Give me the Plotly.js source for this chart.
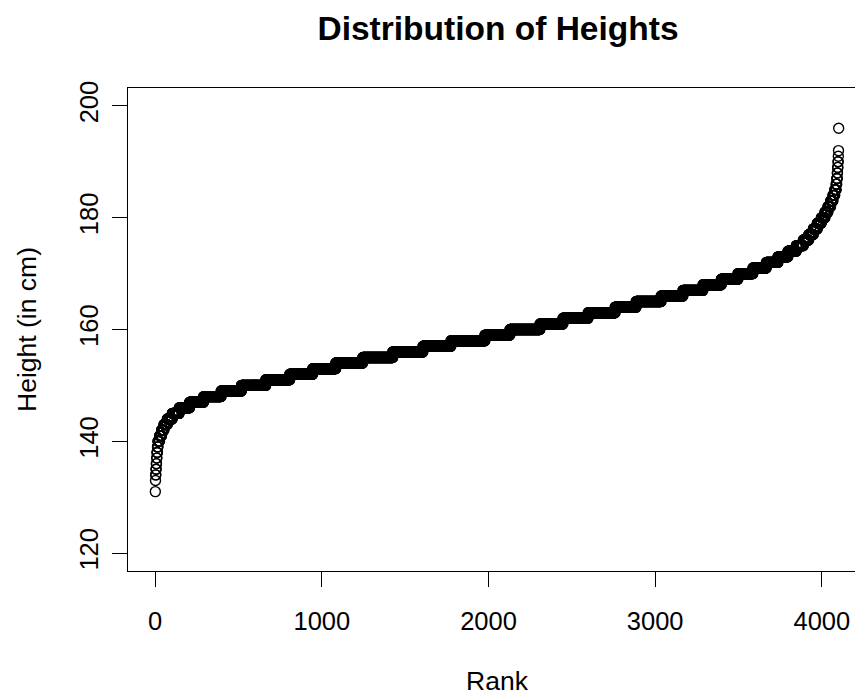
<!DOCTYPE html>
<html>
<head>
<meta charset="utf-8">
<script src="https://cdn.plot.ly/plotly-3.0.1.min.js"></script>
<style>
  html, body { margin: 0; padding: 0; background: #ffffff; overflow: hidden; }
  #frame { width: 855px; height: 696px; overflow: hidden; position: relative; }
  #chart { width: 866px; height: 696px; }
</style>
</head>
<body>
<div id="frame"><div id="chart"></div></div>
<script>
// Observed heights (cm) and how many people had each height
const heightCm = [131, 133, 134, 135, 136, 137, 138, 139,
  140, 141, 142, 143, 144, 145, 146, 147, 148, 149, 150,
  151, 152, 153, 154, 155, 156, 157, 158, 159, 160, 161, 162, 163,
  164, 165, 166, 167, 168, 169, 170, 171, 172, 173, 174, 175,
  176, 177, 178, 179, 180, 181, 182, 183, 184, 185,
  186, 187, 188, 189, 190, 191, 192, 196];
const personCount = [1, 1, 2, 2, 2, 2, 3, 3,
  10, 12, 14, 20, 30, 42, 62, 84, 105, 122, 146,
  144, 138, 138, 162, 180, 181, 168, 204, 150, 180, 138, 151, 162,
  126, 150, 131, 120, 110, 100, 90, 80, 70, 60, 50, 42,
  33, 27, 24, 24, 22, 18, 16, 14, 11, 8,
  4, 3, 2, 2, 2, 1, 1, 1];

const xTicks = [0, 1000, 2000, 3000, 4000];
const yTicks = [120, 140, 160, 180, 200];

// Expand the frequency table into the sorted list of individual heights
const sortedHeights = [];
heightCm.forEach((h, i) => {
  for (let k = 0; k < personCount[i]; k++) sortedHeights.push(h);
});
const rank = sortedHeights.map((_, i) => i + 1);
const n = rank.length;

const family = '"Liberation Sans", Arial, sans-serif';
const tickFont = { family: family, size: 25.5, color: '#000000' };
const labelFont = { family: family, size: 26.5, color: '#000000' };

const trace = {
  type: 'scatter',
  mode: 'markers',
  x: rank,
  y: sortedHeights,
  marker: {
    symbol: 'circle-open',
    size: 10,
    color: '#000000',
    line: { width: 1.4, color: '#000000' }
  },
  hoverinfo: 'x+y'
};

// 4% padding on each side of the data, as in a base-graphics plot
const pad = 0.04 * (n - 1);

const layout = {
  width: 866,
  height: 696,
  margin: { l: 128, r: 0, t: 88, b: 125, pad: 0 },
  paper_bgcolor: '#ffffff',
  plot_bgcolor: '#ffffff',
  showlegend: false,
  font: tickFont,
  title: {
    text: 'Distribution of Heights',
    font: { family: family, size: 33.5, color: '#000000', weight: 'bold' },
    xref: 'container', x: 498 / 866, xanchor: 'center',
    yref: 'container', y: 1 - 28 / 696, yanchor: 'middle'
  },
  xaxis: {
    range: [1 - pad, n + pad],
    tickvals: xTicks,
    ticktext: xTicks.map(String),
    ticks: 'outside', ticklen: 15, tickwidth: 1, tickcolor: '#000000',
    showline: true, linecolor: '#000000', linewidth: 1, mirror: true,
    showgrid: false, zeroline: false,
    tickfont: tickFont,
    ticklabelstandoff: 12,
    title: { text: 'Rank', font: labelFont, standoff: 40 }
  },
  yaxis: {
    range: [116.8, 203.2],
    tickvals: yTicks,
    ticktext: yTicks.map(String),
    tickangle: -90,
    ticks: 'outside', ticklen: 15, tickwidth: 1, tickcolor: '#000000',
    showline: true, linecolor: '#000000', linewidth: 1, mirror: true,
    showgrid: false, zeroline: false,
    tickfont: tickFont,
    ticklabelstandoff: 4,
    title: { text: 'Height (in cm)', font: labelFont, standoff: 30 }
  }
};

Plotly.newPlot('chart', [trace], layout, { displayModeBar: false, staticPlot: true });
</script>
</body>
</html>
